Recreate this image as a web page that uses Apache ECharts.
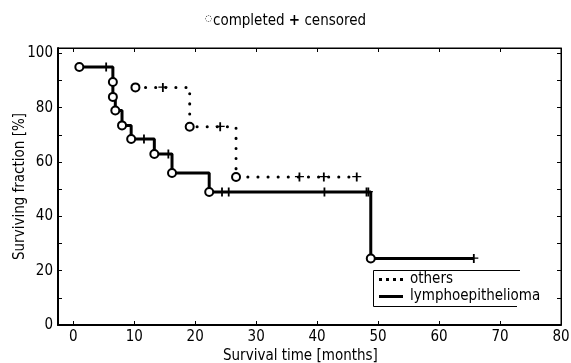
<!DOCTYPE html>
<html>
<head>
<meta charset="utf-8">
<script src="https://cdn.jsdelivr.net/npm/echarts@6/dist/echarts.min.js"></script>
<style>
  html, body { margin: 0; padding: 0; background: #fff; }
  #chart { width: 571px; height: 363px; }
</style>
</head>
<body>
<div id="chart"></div>
<script>
  // step points [time, fraction]: value holds until the next time
  const lymphoSteps = [[1, 95], [6.5, 89.5], [6.5, 84], [6.9, 79], [8, 73.5], [9.5, 68.5], [13.3, 63], [16.2, 56], [22.3, 49], [48.8, 24.5], [65.7, 24.5]];
  const lymphoEvents = [[1, 95], [6.5, 89.5], [6.5, 84], [6.9, 79], [8, 73.5], [9.5, 68.5], [13.3, 63], [16.2, 56], [22.3, 49], [48.8, 24.5]];
  const lymphoCensored = [[5.4, 95], [11.6, 68.5], [15.6, 63], [24.4, 49], [25.5, 49], [41.2, 49], [48.1, 49], [48.4, 49], [65.7, 24.5]];

  const othersSteps = [[10.2, 87.5], [19.1, 73], [26.7, 54.5], [46.5, 54.5]];
  const othersEvents = [[10.2, 87.5], [19.1, 73], [26.7, 54.5]];
  const othersCensored = [[14.7, 87.5], [24.1, 73], [37.1, 54.5], [41.1, 54.5], [46.5, 54.5]];

  const xTicks = [0, 10, 20, 30, 40, 50, 60, 70, 80];
  const yTicks = [0, 10, 20, 30, 40, 50, 60, 70, 80, 90, 100];
  const yLabels = [0, 20, 40, 60, 80, 100];

  const font = "'Liberation Sans Narrow', 'DejaVu Sans Condensed', sans-serif";
  const plus = "path://M4,0h2v4h4v1.4h-4v4.6h-2v-4.6h-4v-1.4h4z";
  const dotsIcon = "path://M0,0h3v3h-3zM7,0h3v3h-3zM14,0h3v3h-3zM21,0h3v3h-3z";
  const barIcon = "path://M0,0h24v3h-24z";

  const chart = echarts.init(document.getElementById("chart"));

  const tickStyle = { show: true, inside: true, length: 4, lineStyle: { color: "#000", width: 1 } };

  const option = {
    animation: false,
    textStyle: { fontFamily: font, color: "#000" },
    title: [
      {
        text: "{c|\u25CC}completed {p|+} censored",
        left: "center",
        top: 9,
        textStyle: {
          fontFamily: font, fontWeight: "normal", fontSize: 15, color: "#000",
          rich: {
            c: { fontSize: 9, fontFamily: font, color: "#000", verticalAlign: "top", padding: [0, 1, 0, 0] },
            p: { fontSize: 15, fontWeight: "bold", fontFamily: font, color: "#000" }
          }
        }
      },
      {
        text: "Survival time [months]",
        left: 218,
        top: 344,
        textStyle: { fontFamily: font, fontWeight: "normal", fontSize: 15, color: "#000" }
      }
    ],
    grid: {
      left: 58, right: 10, top: 48, bottom: 38,
      outerBoundsMode: "none",
      containLabel: false,
      show: true, borderColor: "#000", borderWidth: 1
    },
    // legend frame: open on the right like the original
    graphic: [
      {
        type: "polyline", z: 10,
        shape: { points: [[520, 270.5], [373.5, 270.5], [373.5, 306.5], [517, 306.5]] },
        style: { stroke: "#000", lineWidth: 1, fill: null }
      }
    ],
    legend: {
      data: [
        { name: "others", icon: dotsIcon, itemStyle: { color: "#000" } },
        { name: "lymphoepithelioma", icon: barIcon, itemStyle: { color: "#000" } }
      ],
      orient: "vertical",
      left: 373, top: 271,
      itemWidth: 24, itemHeight: 3, itemGap: 2,
      padding: [1, 0, 1, 6],
      textStyle: { fontFamily: font, fontSize: 15, color: "#000", padding: [0, 0, 0, 2], lineHeight: 15 }
    },
    xAxis: [
      {
        type: "value", min: -2.5, max: 80,
        splitLine: { show: false },
        axisLine: { show: true, onZero: false, lineStyle: { color: "#000", width: 2 } },
        axisTick: Object.assign({ customValues: xTicks }, tickStyle),
        axisLabel: { customValues: xTicks, fontFamily: font, fontSize: 15, color: "#000", margin: 5 }
      },
      {
        type: "value", min: -2.5, max: 80, position: "top",
        splitLine: { show: false },
        axisLine: { show: true, onZero: false, lineStyle: { color: "#000", width: 1 } },
        axisTick: Object.assign({ customValues: xTicks }, tickStyle),
        axisLabel: { show: false }
      }
    ],
    yAxis: [
      {
        type: "value", min: 0, max: 102,
        name: "Surviving fraction [%]",
        nameLocation: "middle", nameGap: 30, nameMoveOverlap: false,
        nameTextStyle: { fontFamily: font, fontSize: 15, color: "#000" },
        splitLine: { show: false },
        axisLine: { show: true, onZero: false, lineStyle: { color: "#000", width: 2 } },
        axisTick: Object.assign({ customValues: yTicks }, tickStyle),
        axisLabel: { customValues: yLabels, fontFamily: font, fontSize: 15, color: "#000", margin: 5 }
      },
      {
        type: "value", min: 0, max: 102, position: "right",
        splitLine: { show: false },
        axisLine: { show: true, onZero: false, lineStyle: { color: "#000", width: 1 } },
        axisTick: Object.assign({ customValues: yTicks }, tickStyle),
        axisLabel: { show: false }
      }
    ],
    series: [
      {
        name: "others", type: "line", step: "end", data: othersSteps,
        symbol: "none", color: "#000",
        lineStyle: { color: "#000", width: 3, type: [0.1, 10], cap: "round" },
        z: 2
      },
      {
        name: "lymphoepithelioma", type: "line", step: "end", data: lymphoSteps,
        symbol: "none", color: "#000",
        lineStyle: { color: "#000", width: 3 },
        z: 2
      },
      {
        name: "others completed", type: "scatter", data: othersEvents,
        symbol: "emptyCircle", symbolSize: 8,
        itemStyle: { color: "#000", borderColor: "#000", borderWidth: 1.5, opacity: 1 }, z: 3
      },
      {
        name: "lympho completed", type: "scatter", data: lymphoEvents,
        symbol: "emptyCircle", symbolSize: 8,
        itemStyle: { color: "#000", borderColor: "#000", borderWidth: 1.5, opacity: 1 }, z: 3
      },
      {
        name: "others censored", type: "scatter", data: othersCensored,
        symbol: plus, symbolSize: 9,
        itemStyle: { color: "#000", opacity: 1 }, z: 3
      },
      {
        name: "lympho censored", type: "scatter", data: lymphoCensored,
        symbol: plus, symbolSize: 9,
        itemStyle: { color: "#000", opacity: 1 }, z: 3
      }
    ]
  };

  chart.setOption(option);
</script>
</body>
</html>
